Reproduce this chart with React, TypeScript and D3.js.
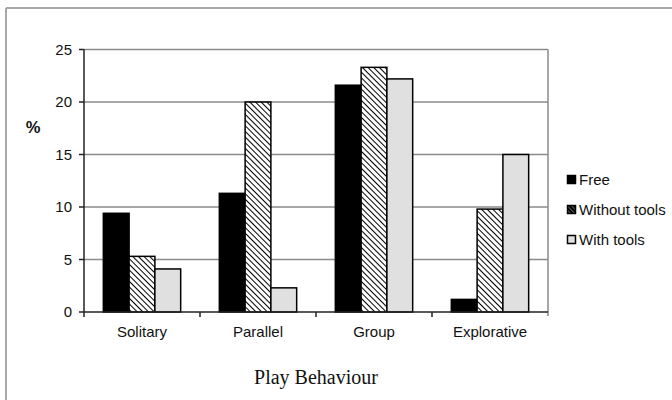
import React from "react";
import * as d3 from "d3";

const categories = ["Solitary", "Parallel", "Group", "Explorative"];
const seriesNames = ["Free", "Without tools", "With tools"];
const freeValues = [9.4, 11.3, 21.6, 1.2];
const withoutToolsValues = [5.3, 20.0, 23.3, 9.8];
const withToolsValues = [4.1, 2.3, 22.2, 15.0];
const yTicks = [0, 5, 10, 15, 20, 25];
const yLabel = "%";
const xTitle = "Play Behaviour";

const W = 672;
const H = 400;
const plot = { left: 84, right: 548, top: 49.5, bottom: 312 };

export default function App() {
  const x0 = d3
    .scaleBand<string>()
    .domain(categories)
    .range([plot.left, plot.right])
    .paddingInner(0)
    .paddingOuter(0);
  const x1 = d3
    .scaleBand<string>()
    .domain(seriesNames)
    .range([0, x0.bandwidth()])
    .paddingOuter(0.75)
    .paddingInner(0);
  const y = d3.scaleLinear().domain([0, 25]).range([plot.bottom, plot.top]);

  const series = [
    { name: seriesNames[0], values: freeValues, fill: "#000000" },
    { name: seriesNames[1], values: withoutToolsValues, fill: "url(#hatch)" },
    { name: seriesNames[2], values: withToolsValues, fill: "#e0e0e0" },
  ];

  const sans = "'Liberation Sans', Arial, Helvetica, sans-serif";
  const grid = "#8a8a8a";
  const fs = 15;

  return (
    <svg
      width={W}
      height={H}
      style={{ position: "absolute", left: 0, top: 0, background: "#fff" }}
    >
      <defs>
        <pattern
          id="hatch"
          patternUnits="userSpaceOnUse"
          width={4}
          height={4}
          patternTransform="rotate(-45)"
        >
          <rect width={4} height={4} fill="#ffffff" />
          <line x1={0} y1={0} x2={0} y2={4} stroke="#000" strokeWidth={2} />
        </pattern>
        <pattern
          id="hatchLegend"
          patternUnits="userSpaceOnUse"
          width={3}
          height={3}
          patternTransform="rotate(-45)"
        >
          <rect width={3} height={3} fill="#000" />
          <line x1={0} y1={0} x2={0} y2={3} stroke="#fff" strokeWidth={0.8} />
        </pattern>
      </defs>
      <rect x={0} y={0} width={W} height={H} fill="#fff" />
      {/* outer frame */}
      <line x1={6} y1={8} x2={W} y2={8} stroke="#a8a8a8" strokeWidth={2} />
      <line x1={6} y1={8} x2={6} y2={H} stroke="#a8a8a8" strokeWidth={2} />

      {/* gridlines */}
      {yTicks
        .filter((t) => t > 0)
        .map((t) => (
          <line
            key={"g" + t}
            x1={plot.left}
            x2={plot.right}
            y1={y(t)}
            y2={y(t)}
            stroke={grid}
            strokeWidth={1.5}
          />
        ))}
      {/* right border */}
      <line
        x1={plot.right}
        x2={plot.right}
        y1={plot.top}
        y2={plot.bottom + 4}
        stroke={grid}
        strokeWidth={1.5}
      />

      {/* bars */}
      {series.map((s) =>
        categories.map((c, i) => {
          const bx = (x0(c) as number) + (x1(s.name) as number);
          const by = y(s.values[i]);
          return (
            <rect
              key={s.name + c}
              x={bx}
              y={by}
              width={x1.bandwidth()}
              height={y(0) - by}
              fill={s.fill}
              stroke="#000"
              strokeWidth={1.5}
            />
          );
        })
      )}

      {/* axes */}
      <line
        x1={plot.left}
        x2={plot.left}
        y1={plot.top}
        y2={plot.bottom}
        stroke="#222"
        strokeWidth={1.5}
      />
      <line
        x1={plot.left}
        x2={plot.right}
        y1={plot.bottom}
        y2={plot.bottom}
        stroke="#222"
        strokeWidth={1.5}
      />
      {yTicks.map((t) => (
        <g key={"t" + t}>
          <line
            x1={plot.left - 5}
            x2={plot.left}
            y1={y(t)}
            y2={y(t)}
            stroke="#222"
            strokeWidth={1.5}
          />
          <text
            x={72}
            y={y(t)}
            dy="0.36em"
            textAnchor="end"
            fontFamily={sans}
            fontSize={fs}
            fill="#111"
          >
            {t}
          </text>
        </g>
      ))}
      {categories.map((c, i) => (
        <g key={"x" + c}>
          {i > 0 && (
            <line
              x1={x0(c)}
              x2={x0(c)}
              y1={plot.bottom}
              y2={plot.bottom + 5}
              stroke="#222"
              strokeWidth={1.5}
            />
          )}
          <text
            x={(x0(c) as number) + x0.bandwidth() / 2}
            y={337}
            textAnchor="middle"
            fontFamily={sans}
            fontSize={fs}
            fill="#111"
          >
            {c}
          </text>
        </g>
      ))}
      <line
        x1={plot.left}
        x2={plot.left}
        y1={plot.bottom}
        y2={plot.bottom + 5}
        stroke="#222"
        strokeWidth={1.5}
      />

      <text
        x={33}
        y={133}
        textAnchor="middle"
        fontFamily={sans}
        fontSize={16.5}
        fontWeight="bold"
        fill="#111"
      >
        {yLabel}
      </text>

      <text
        x={(plot.left + plot.right) / 2}
        y={384}
        textAnchor="middle"
        fontFamily="'Liberation Serif', 'Times New Roman', serif"
        fontSize={20}
        fill="#111"
      >
        {xTitle}
      </text>

      {/* legend */}
      {series.map((s, i) => {
        const cy = 180 + i * 30;
        return (
          <g key={"l" + s.name}>
            <rect
              x={567.5}
              y={cy - 4.5}
              width={8}
              height={8}
              fill={i === 1 ? "url(#hatchLegend)" : s.fill}
              stroke="#000"
              strokeWidth={1.5}
            />
            <text
              x={579}
              y={cy}
              dy="0.36em"
              fontFamily={sans}
              fontSize={fs}
              fill="#111"
            >
              {s.name}
            </text>
          </g>
        );
      })}
    </svg>
  );
}
